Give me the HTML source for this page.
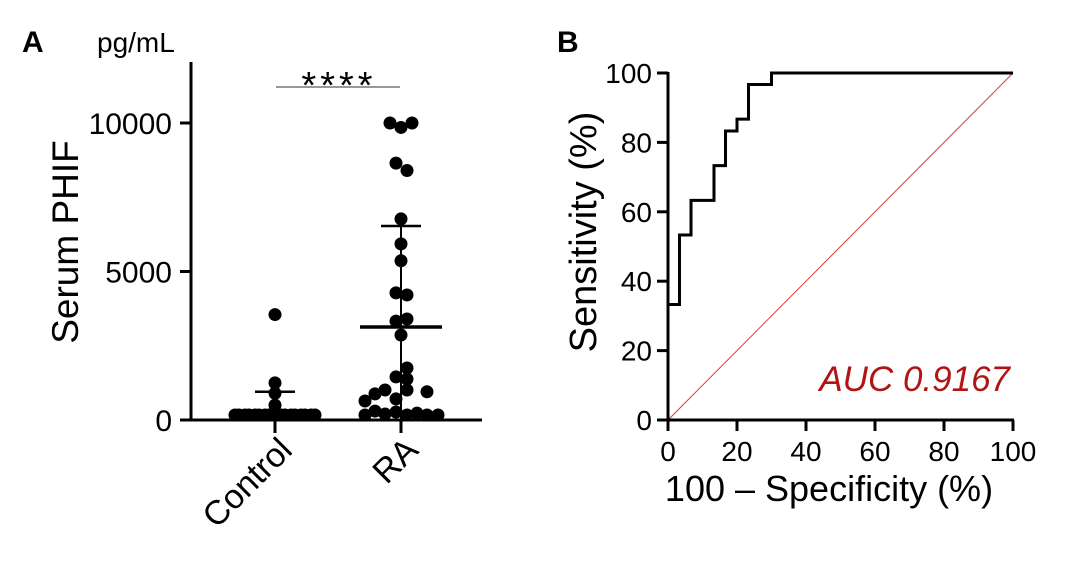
<!DOCTYPE html>
<html><head><meta charset="utf-8"><style>
body{margin:0;background:#fff}
svg{display:block;font-family:"Liberation Sans",Arial,sans-serif}
</style></head><body>
<svg id="fig" width="1083" height="587" viewBox="0 0 1083 587">
<g id="A"></g>
<g id="B"></g>
</svg>
<script>
// Panel A data
const groups = ["Control","RA"];
const raValues = [10000,9850,10000,8650,8400,6770,5930,5360,4280,4210,3330,3400,2860,1750,1450,1380,880,1010,1010,950,640,710,170,300,200,270,70,230,170,170];
const raJitter = [-11,0,11,-5,6,0,0,0,-5,6,-5,6,0,6,-5,6,-26,-16,6,26,-36,-5,-36,-26,-16,-5,6,16,26,37];
const ctrlValues = [3550,1250,900,500,100,100,100,100,100,100,100,100,60,60,60,60,60,60,60,60,60,60];
const ctrlJitter = [0,0,0,0,-36,-26,-16,-6,6,16,26,36,-40,-30,-20,-10,0,10,20,30,40,-3];
const groupMean = [240,3130];
const groupSDTop = [950,6530];
const yTicksA = [0,5000,10000];
// Panel B data
const rocFPR = [0,0,3.33,3.33,6.67,6.67,13.33,13.33,16.67,16.67,20,20,23.33,23.33,30,30,100];
const rocTPR = [0,33.3,33.3,53.3,53.3,63.3,63.3,73.3,73.3,83.3,83.3,86.7,86.7,96.7,96.7,100,100];
const ticksB = [0,20,40,60,80,100];
const aucLabel = "AUC 0.9167";

const NS="http://www.w3.org/2000/svg";
function mk(parent,tag,attrs,text){const e=document.createElementNS(NS,tag);for(const k in attrs)e.setAttribute(k,attrs[k]);if(text!==undefined)e.textContent=text;parent.appendChild(e);return e;}

// ---- Panel A
const A=document.getElementById('A');
const yA=v=>420-v*(297/10000);
const xA=i=>[275,401][i];
let t;
t=mk(A,'text',{x:22,y:52,'font-size':30,'font-weight':'bold'},'A');

t=mk(A,'text',{x:97,y:52,'font-size':28},'pg/mL');

t=mk(A,'line',{x1:191,y1:62,x2:191,y2:421,stroke:'#000','stroke-width':3});

t=mk(A,'line',{x1:190,y1:420,x2:482,y2:420,stroke:'#000','stroke-width':3});

yTicksA.forEach(v=>{
  t=mk(A,'line',{x1:180,y1:yA(v),x2:191,y2:yA(v),stroke:'#000','stroke-width':3});
  
  t=mk(A,'text',{x:172,y:yA(v)+11,'font-size':30,'text-anchor':'end'},String(v));
  
});
t=mk(A,'text',{x:0,y:0,'font-size':37,'text-anchor':'middle',transform:'translate(78,242) rotate(-90)'},'Serum PHIF');

groups.forEach((g,i)=>{
  t=mk(A,'line',{x1:xA(i),y1:420,x2:xA(i),y2:433,stroke:'#000','stroke-width':3});
  
  t=mk(A,'text',{x:0,y:0,'font-size':34,'text-anchor':'end',transform:`translate(${xA(i)+19},${452}) rotate(-45)`},g);
  
});
function dots(vals,jit,i){vals.forEach((v,k)=>{
  const c=mk(A,'circle',{cx:xA(i)+jit[k],cy:Math.min(yA(v),415),r:6.5,fill:'#000'});
  
  
});}
dots(ctrlValues,ctrlJitter,0);
dots(raValues,raJitter,1);
groupMean.forEach((m,i)=>{
  t=mk(A,'line',{x1:xA(i),y1:yA(groupSDTop[i]),x2:xA(i),y2:420,stroke:'#000','stroke-width':2});
  
  t=mk(A,'line',{x1:xA(i)-20,y1:yA(groupSDTop[i]),x2:xA(i)+20,y2:yA(groupSDTop[i]),stroke:'#000','stroke-width':2.5});
  
  t=mk(A,'line',{x1:xA(i)-41,y1:yA(m),x2:xA(i)+41,y2:yA(m),stroke:'#000','stroke-width':3.5});
  
});
t=mk(A,'line',{x1:276,y1:87,x2:400,y2:87,stroke:'#777','stroke-width':1.5});

t=mk(A,'text',{x:339,y:98,'font-size':38,'text-anchor':'middle','letter-spacing':'4'},'****');


// ---- Panel B
const B=document.getElementById('B');
const xB=v=>668+v*3.45, yB=v=>420-v*3.47;
t=mk(B,'text',{x:557,y:52,'font-size':30,'font-weight':'bold'},'B');

t=mk(B,'line',{x1:xB(0),y1:yB(0),x2:xB(100),y2:yB(100),stroke:'#e03a3a','stroke-width':1});

t=mk(B,'polyline',{points:rocFPR.map((f,i)=>xB(f)+','+yB(rocTPR[i])).join(' '),fill:'none',stroke:'#000','stroke-width':3});

t=mk(B,'line',{x1:668,y1:72,x2:668,y2:421,stroke:'#000','stroke-width':3});

t=mk(B,'line',{x1:667,y1:420,x2:1014,y2:420,stroke:'#000','stroke-width':3});

ticksB.forEach(v=>{
  t=mk(B,'line',{x1:657,y1:yB(v),x2:668,y2:yB(v),stroke:'#000','stroke-width':3});
  
  t=mk(B,'text',{x:652,y:yB(v)+10,'font-size':28,'text-anchor':'end'},String(v));
  
  t=mk(B,'line',{x1:xB(v),y1:420,x2:xB(v),y2:431,stroke:'#000','stroke-width':3});
  
  t=mk(B,'text',{x:xB(v),y:461,'font-size':28,'text-anchor':'middle'},String(v));
  
});
t=mk(B,'text',{x:0,y:0,'font-size':38,'text-anchor':'middle',transform:'translate(596,232) rotate(-90)'},'Sensitivity (%)');

t=mk(B,'text',{x:829,y:501,'font-size':36,'text-anchor':'middle'},'100 – Specificity (%)');

t=mk(B,'text',{x:1010,y:391,'font-size':35,'font-style':'italic',fill:'#b01515','text-anchor':'end'},aucLabel);

</script>
</body></html>
